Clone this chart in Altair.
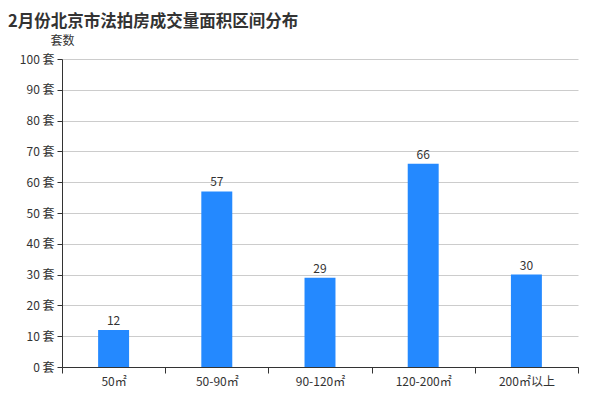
import altair as alt
import pandas as pd

categories = ["50㎡", "50-90㎡", "90-120㎡", "120-200㎡", "200㎡以上"]
values = [12, 57, 29, 66, 30]

df = pd.DataFrame({"cat": categories, "val": values})
FONT = "Noto Sans CJK SC"

x = alt.X("cat:N", sort=categories, title=None,
          scale=alt.Scale(paddingInner=0, paddingOuter=0),
          axis=alt.Axis(labelAngle=0, tickBand="extent", grid=False,
                        domainColor="#333", tickColor="#333", tickSize=6,
                        labelColor="#333", labelFontSize=12, labelFont=FONT,
                        labelPadding=3))
y = alt.Y("val:Q", title="套数",
          scale=alt.Scale(domain=[0, 100], nice=False),
          axis=alt.Axis(values=list(range(0, 101, 10)), labelExpr="datum.value + ' 套'",
                        labelOverlap=False,
                        gridColor="#ccc", domain=True, domainColor="#333",
                        tickColor="#333", tickSize=5, labelColor="#333",
                        labelFontSize=12, labelFont=FONT, labelPadding=3,
                        titleAngle=0, titleAlign="center", titleX=0, titleY=-15,
                        titleFont=FONT, titleFontSize=12, titleFontWeight="normal",
                        titleColor="#333", titleBaseline="alphabetic"))

base = alt.Chart(df).encode(x=x, y=y)
bars = base.mark_bar(color="#2489ff", width=alt.RelativeBandSize(0.3))
text = base.mark_text(dy=-9, fontSize=12, font=FONT, color="#333").encode(text="val:Q")

chart = alt.layer(bars, text).properties(
    width=516, height=308,
    padding={"left": 54, "top": 51, "right": 14, "bottom": 25},
    autosize=alt.AutoSizeParams(type="none"),
    title=alt.TitleParams("2月份北京市法拍房成交量面积区间分布", anchor="start", frame="group",
                          dx=-54, offset=4, fontSize=16.5, fontWeight="bold", font=FONT,
                          color="#333"),
).configure_view(stroke=None)

chart.save("out.html", embed_options={"renderer": "svg", "actions": False})
